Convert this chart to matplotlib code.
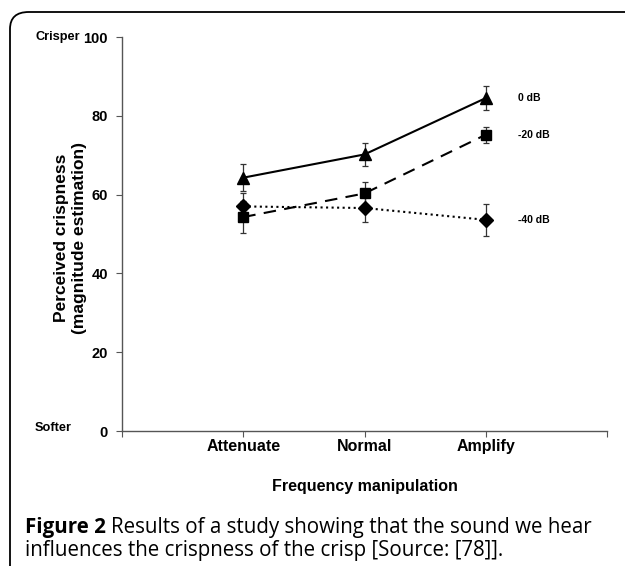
import matplotlib.pyplot as plt
from matplotlib.patches import FancyBboxPatch

categories = ['Attenuate', 'Normal', 'Amplify']
levels = ['0 dB', '-20 dB', '-40 dB']
crisp_0db = [64.3, 70.2, 84.5]
err_0db = [3.5, 3.0, 3.0]
crisp_20db = [54.3, 60.3, 75.2]
err_20db = [4.0, 3.0, 2.0]
crisp_40db = [57.0, 56.6, 53.6]
err_40db = [3.5, 3.5, 4.0]

plt.rcParams['font.family'] = ['Liberation Sans', 'DejaVu Sans']

fig = plt.figure(figsize=(6.25, 5.66), dpi=100)
ax = fig.add_axes([0.1952, 0.2385, 0.7760, 0.6961])

x = [1, 2, 3]
series = [(crisp_0db, err_0db, '-', '^', 9),
          (crisp_20db, err_20db, (0, (6, 4)), 's', 7.5),
          (crisp_40db, err_40db, ':', 'D', 7)]
for (vals, errs, ls, mk, ms), lab in zip(series, levels):
    ax.errorbar(x, vals, yerr=errs, fmt='none', ecolor='#333333',
                elinewidth=0.9, capsize=2.5, capthick=0.9, zorder=2)
    ax.plot(x, vals, color='black', linestyle=ls, linewidth=1.5,
            marker=mk, markersize=ms, zorder=3)
    ax.annotate(lab, xy=(3, vals[-1]), xytext=(23, 0), textcoords='offset points',
                va='center', ha='left', fontsize=7.5, fontweight='bold')

ax.set_xlim(0, 4)
ax.set_ylim(0, 100)
ax.set_xticks([0, 1, 2, 3, 4])
ax.set_xticklabels([''] + categories + [''], fontsize=11.5, fontweight='bold')
ax.set_yticks([0, 20, 40, 60, 80, 100])
ax.set_yticklabels(['0', '20', '40', '60', '80', '100'], fontsize=10.5, fontweight='bold')
ax.tick_params(axis='both', length=4, width=0.8, color='#555555')
ax.tick_params(axis='x', pad=2)
ax.tick_params(axis='y', pad=6)
for s in ['top', 'right']:
    ax.spines[s].set_visible(False)
for s in ['left', 'bottom']:
    ax.spines[s].set_color('#555555')
    ax.spines[s].set_linewidth(1.0)

ax.set_xlabel('Frequency manipulation', fontsize=11.5, fontweight='bold', labelpad=18)
ax.set_ylabel('Perceived crispness\n(magnitude estimation)', fontsize=12.5,
              fontweight='bold', linespacing=1.25)
ax.yaxis.set_label_coords(-0.072, 0.49)

fig.text(35 / 625, 1 - 37 / 566, 'Crisper', fontsize=9.2, fontweight='bold',
         va='center', ha='left')
fig.text(35 / 625, 1 - 428 / 566, 'Softer', fontsize=9.2, fontweight='bold',
         va='center', ha='left')

# rounded frame
frame = FancyBboxPatch((10 / 625, -0.1), 1.2, 1.0 - 12 / 566 + 0.1,
                       boxstyle='round,pad=0,rounding_size=0.03',
                       transform=fig.transFigure, fill=False,
                       edgecolor='black', linewidth=1.3)
fig.patches.append(frame)

# caption: bold "Figure 2" followed by regular text
cap_font = 'Open Sans'
cap_size = 14.8
x0 = 25 / 625
renderer = fig.canvas.get_renderer()
t1 = fig.text(x0, 1 - 533 / 566, 'Figure 2 ', fontsize=cap_size, fontweight='bold',
              va='baseline', ha='left', family=cap_font)
w1 = t1.get_window_extent(renderer).width
fig.text(x0 + w1 / 625, 1 - 533 / 566,
         'Results of a study showing that the sound we hear',
         fontsize=cap_size, va='baseline', ha='left', family=cap_font)
fig.text(x0, 1 - 556 / 566,
         'influences the crispness of the crisp [Source: [78]].',
         fontsize=cap_size, va='baseline', ha='left', family=cap_font)

fig.savefig('out.png', dpi=100)
